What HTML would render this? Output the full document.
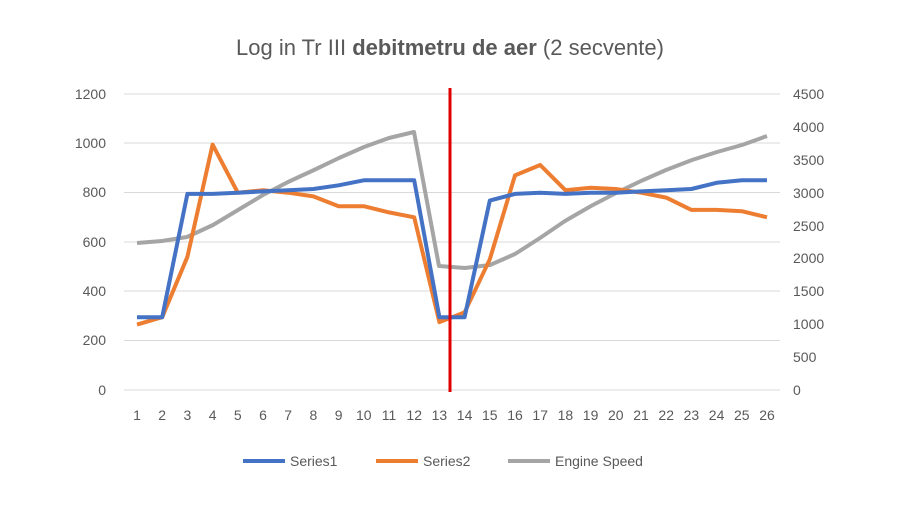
<!DOCTYPE html>
<html><head><meta charset="utf-8"><style>
body{margin:0;background:#fff;}
svg{display:block;font-family:"Liberation Sans",sans-serif;}
</style></head><body>
<svg width="900" height="507" viewBox="0 0 900 507" xmlns="http://www.w3.org/2000/svg">
<rect width="900" height="507" fill="#fff"/>
<text x="450" y="55" text-anchor="middle" font-size="22" fill="#595959">Log in Tr III <tspan font-weight="bold">debitmetru de aer</tspan> (2 secvente)</text>
<g stroke="#d9d9d9" stroke-width="1">
<line x1="124" x2="780" y1="94" y2="94"/><line x1="124" x2="780" y1="143" y2="143"/><line x1="124" x2="780" y1="192.5" y2="192.5"/><line x1="124" x2="780" y1="242" y2="242"/><line x1="124" x2="780" y1="291" y2="291"/><line x1="124" x2="780" y1="340.5" y2="340.5"/><line x1="124" x2="780" y1="390" y2="390"/>
</g>
<g font-size="14" fill="#595959" text-anchor="end">
<text x="106" y="99">1200</text><text x="106" y="148">1000</text><text x="106" y="197">800</text><text x="106" y="247">600</text><text x="106" y="296">400</text><text x="106" y="345">200</text><text x="106" y="395">0</text>
</g>
<g font-size="14" fill="#595959" text-anchor="start">
<text x="793" y="99">4500</text><text x="793" y="132">4000</text><text x="793" y="165">3500</text><text x="793" y="198">3000</text><text x="793" y="231">2500</text><text x="793" y="263">2000</text><text x="793" y="296">1500</text><text x="793" y="329">1000</text><text x="793" y="362">500</text><text x="793" y="395">0</text>
</g>
<g font-size="14" fill="#595959" text-anchor="middle" id="xl"></g>
<polyline fill="none" stroke="#a5a5a5" stroke-width="4" stroke-linejoin="round" points="137,243 162,241 187,237 213,225 238,210 263,195 288,182 314,170 339,158 364,147 389,138 414,132 439,266 465,268 490,265 515,254 540,238 565,221 591,206 616,193 641,181 666,170 692,160 717,152 742,145 767,136"/>
<polyline id="s2" fill="none" stroke="#ed7d31" stroke-width="4" stroke-linejoin="round" points=""/>
<polyline id="s1" fill="none" stroke="#4472c4" stroke-width="4" stroke-linejoin="round" points=""/>
<line x1="450" x2="450" y1="88" y2="392" stroke="#e00000" stroke-width="3"/>
<g font-size="14" fill="#595959">
<line x1="243" x2="285" y1="461" y2="461" stroke="#4472c4" stroke-width="4"/><text x="290" y="466">Series1</text>
<line x1="376" x2="418" y1="461" y2="461" stroke="#ed7d31" stroke-width="4"/><text x="423" y="466">Series2</text>
<line x1="508" x2="550" y1="461" y2="461" stroke="#a5a5a5" stroke-width="4"/><text x="555" y="466">Engine Speed</text>
</g>
</svg>
<script>
var s1=[295,295,795,795,800,805,810,815,830,850,850,850,295,295,768,795,800,795,800,800,805,810,815,840,850,850];
var s2=[265,295,540,995,800,810,800,785,745,745,720,700,275,315,530,870,912,810,820,815,800,780,730,730,725,700];
function X(i){return 137+i*25.2;}function Y(v){return 390-v*296/1200;}
function pts(a){return a.map(function(v,i){return X(i).toFixed(1)+","+Y(v).toFixed(1);}).join(" ");}
document.getElementById("s1").setAttribute("points",pts(s1));
document.getElementById("s2").setAttribute("points",pts(s2));
var g=document.getElementById("xl"),ns="http://www.w3.org/2000/svg";
for(var i=0;i<26;i++){var t=document.createElementNS(ns,"text");t.setAttribute("x",X(i));t.setAttribute("y",420);t.textContent=i+1;g.appendChild(t);}
</script>
</body></html>
